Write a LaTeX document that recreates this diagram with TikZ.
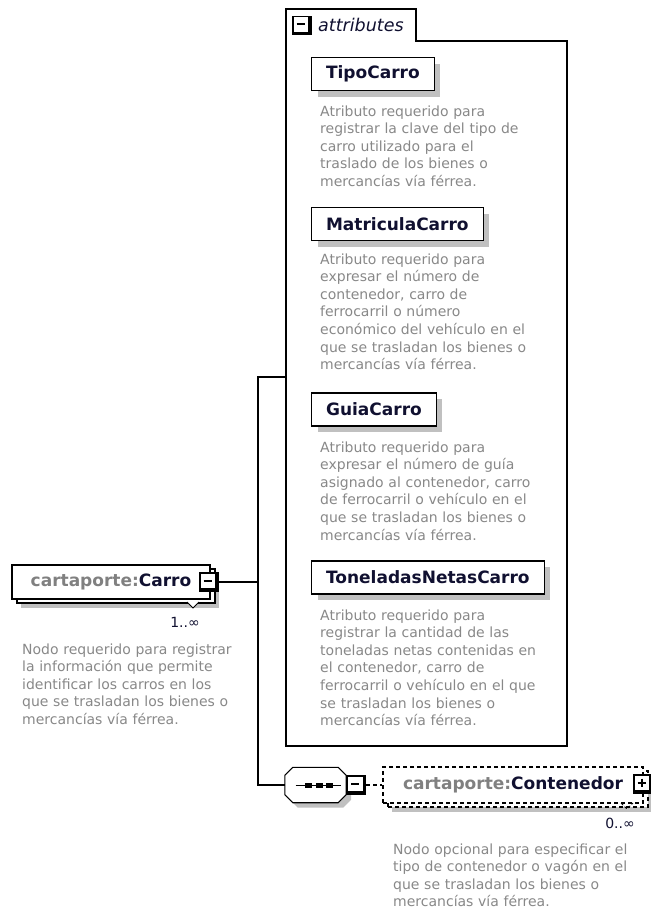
\documentclass[tikz,border=0pt]{standalone}
\usepackage{fontspec}
\setmainfont{DejaVu Sans}
\usetikzlibrary{shadows}

\definecolor{doctext}{RGB}{136,136,136}
\definecolor{pfx}{RGB}{128,128,128}
\definecolor{nm}{RGB}{16,16,48}
\definecolor{shd}{RGB}{192,192,192}

\tikzset{
  elem/.style={draw, fill=white, line width=1.1pt, inner sep=0pt, text=nm,
    font=\fontsize{17}{20}\selectfont\bfseries},
  attr/.style={elem, anchor=west, minimum height=33pt, inner xsep=14.5pt,
    general shadow={fill=shd, draw=none, shadow xshift=6pt, shadow yshift=-6pt}},
  many/.style={general shadow={fill=shd, draw=none, solid, shadow xshift=9pt, shadow yshift=-9pt},
    copy shadow={shadow xshift=5pt, shadow yshift=-4pt}},
  doc/.style={anchor=base west, inner sep=0pt, text width=300pt, align=left,
    text=doctext, font=\fontsize{14}{17.6}\selectfont},
  occ/.style={anchor=base east, inner sep=0pt, text=nm, font=\fontsize{14}{17}\selectfont},
  tog/.style={draw=black, fill=white, line width=1.2pt, minimum width=18pt, minimum height=18pt, inner sep=0pt,
    path picture={
      \fill[black] ([xshift=-3pt]path picture bounding box.north east) rectangle (path picture bounding box.south east);
      \fill[black] ([yshift=3pt]path picture bounding box.south west) rectangle (path picture bounding box.south east);
      \draw[black, line width=2pt] ([xshift=3.5pt,yshift=1.5pt]path picture bounding box.west)
        -- ([xshift=-6.5pt,yshift=1.5pt]path picture bounding box.east);
      #1}},
  tog/.default={},
  link/.style={line width=1.1pt}
}

\begin{document}
\begin{tikzpicture}[x=1pt,y=-1pt]
\useasboundingbox (0,0) rectangle (651,911);

\draw[link] (286,746) -- (286,9) -- (416,9) -- (416,41) -- (567,41) -- (567,746) -- cycle;
\node[tog] (at) at (302,25.5) {};
\node[anchor=base west, inner sep=0pt, text=nm, font=\fontsize{17.5}{20}\selectfont\itshape]
  (al) at (318,31) {attributes};

\node[attr] (tc) at (311,74) {TipoCarro};
\node[doc] (tcd) at (320,116) {Atributo requerido para\\registrar la clave del tipo de\\carro utilizado para el\\traslado de los bienes o\\mercancías vía férrea.};
\node[attr] (mc) at (311,224) {MatriculaCarro};
\node[doc] (mcd) at (320,264) {Atributo requerido para\\expresar el número de\\contenedor, carro de\\ferrocarril o número\\económico del vehículo en el\\que se trasladan los bienes o\\mercancías vía férrea.};
\node[attr] (gc) at (311,409.5) {GuiaCarro};
\node[doc] (gcd) at (320,452) {Atributo requerido para\\expresar el número de guía\\asignado al contenedor, carro\\de ferrocarril o vehículo en el\\que se trasladan los bienes o\\mercancías vía férrea.};
\node[attr] (tn) at (311,577.5) {ToneladasNetasCarro};
\node[doc] (tnd) at (320,620) {Atributo requerido para\\registrar la cantidad de las\\toneladas netas contenidas en\\el contenedor, carro de\\ferrocarril o vehículo en el que\\se trasladan los bienes o\\mercancías vía férrea.};

\node[elem, many, minimum width=198pt, minimum height=34pt] (ca) at (111,582)
  {\textcolor{pfx}{cartaporte:}Carro};
\draw[fill=white, line width=.8pt] (187,602) -- (193,608) -- (199,602);
\node[tog] (cat) at (209,582) {};
\node[occ] (cam) at (200,627) {1..∞};
\node[doc] (cad) at (22,654) {Nodo requerido para registrar\\la información que permite\\identificar los carros en los\\que se trasladan los bienes o\\mercancías vía férrea.};

\node[minimum width=61pt, minimum height=35pt, inner sep=0pt] (sq) at (315.5,785) {};
\draw[link, fill=white, general shadow={fill=shd, draw=none, shadow xshift=5pt, shadow yshift=-5pt}]
  ([xshift=8pt]sq.north west) -- ([xshift=-8pt]sq.north east) -- ([yshift=-8pt]sq.north east)
  -- ([yshift=8pt]sq.south east) -- ([xshift=-8pt]sq.south east) -- ([xshift=8pt]sq.south west)
  -- ([yshift=8pt]sq.south west) -- ([yshift=-8pt]sq.north west) -- cycle;
\draw[line width=1pt] ([xshift=-20pt]sq.center) -- ([xshift=25pt]sq.center);
\foreach \i in {-7,3.5,14}
  \fill ([shift={(\i-3.5,-2.5)}]sq.center) rectangle +(7,5);
\node[tog, anchor=west] (sqt) at ([xshift=1pt]sq.east) {};

\node[elem, many, dash pattern=on 4pt off 3pt, minimum width=260pt, minimum height=36pt] (co) at (513,785)
  {\textcolor{pfx}{cartaporte:}Contenedor};
\draw[line width=.8pt, dash pattern=on 3pt off 2pt] (621,803) -- (627,809) -- (633,803);
\node[tog={\draw[black, line width=2pt] ([xshift=-1.5pt,yshift=-3.5pt]path picture bounding box.north)
  -- ([xshift=-1.5pt,yshift=6.5pt]path picture bounding box.south);}] (cot) at (643,784) {};
\node[occ] (com) at (635,828) {0..∞};
\node[doc] (cod) at (393,854) {Nodo opcional para especificar el\\tipo de contenedor o vagón en el\\que se trasladan los bienes o\\mercancías vía férrea.};

\coordinate (tr) at (258,582);
\coordinate (aw) at (286,377);
\draw[link] (cat.east) -- (tr);
\draw[link] (aw) -| (tr) |- (sq.west);
\draw[link, dash pattern=on 4pt off 3pt] (sqt.east) -- (co.west);
\end{tikzpicture}
\end{document}
